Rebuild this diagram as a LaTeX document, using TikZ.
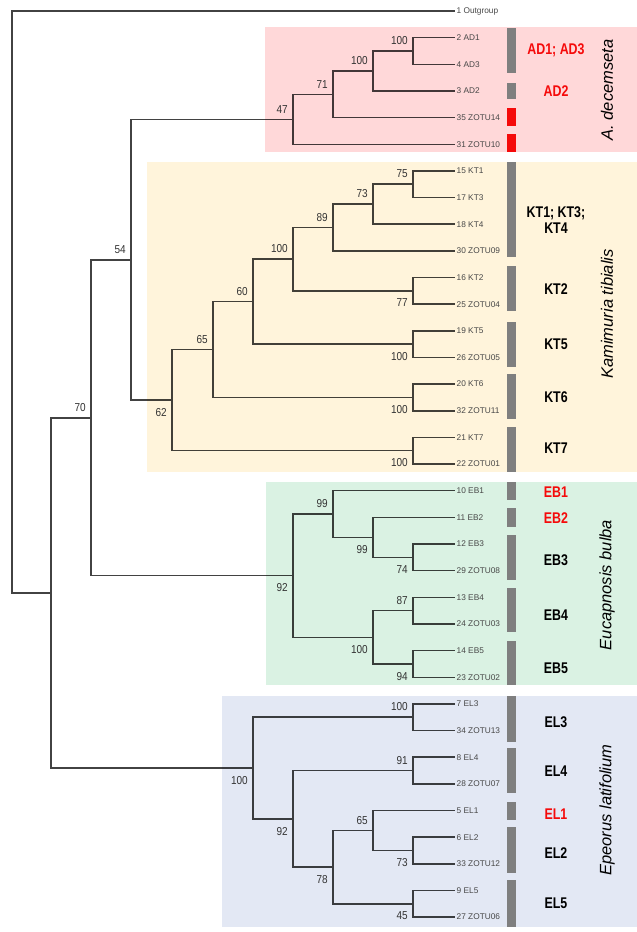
\documentclass[tikz,border=0pt]{standalone}
\usepackage{fontspec}
\setmainfont{Liberation Sans}
\newfontfamily\bsfont[FakeStretch=0.87]{Liberation Sans}
\newfontfamily\grpfont[FakeStretch=0.8]{Liberation Sans}
\definecolor{boxpink}{HTML}{FFD8D9}
\definecolor{boxyellow}{HTML}{FFF4DB}
\definecolor{boxgreen}{HTML}{DAF2E3}
\definecolor{boxblue}{HTML}{E3E8F4}
\definecolor{bargray}{HTML}{7F7F7F}
\definecolor{markred}{HTML}{F50A0A}
\begin{document}
\begin{tikzpicture}[x=1pt, y=-1pt,
  branch/.style={draw=black, draw opacity=0.74, line width=1.5pt},
  leaf/.style={anchor=west, inner sep=1.5pt, text=black!72, font=\fontsize{8.3}{9}\selectfont},
  bsup/.style={anchor=south east, inner sep=0pt, xshift=-5pt, yshift=6pt, text=black!80, font=\bsfont\fontsize{11.5}{12}\selectfont},
  bsdown/.style={anchor=north east, inner sep=0pt, xshift=-5pt, yshift=-8pt, text=black!80, font=\bsfont\fontsize{11.5}{12}\selectfont},
  grp/.style={align=center, font=\grpfont\bfseries\fontsize{15.5}{16.5}\selectfont},
  species/.style={rotate=90, font=\fontsize{16.5}{18}\selectfont\itshape}]
\useasboundingbox (0,0) rectangle (637,932);

% clade boxes
\fill[boxpink] (265,27) rectangle (637,152);
\fill[boxyellow] (147,162) rectangle (637,472);
\fill[boxgreen] (266,482) rectangle (637,685);
\fill[boxblue] (222,696) rectangle (637,927);

% haplotype bars
\fill[bargray] (507,28) rectangle (516,73);
\fill[bargray] (507,83) rectangle (516,99);
\fill[markred] (507,108) rectangle (516,126);
\fill[markred] (507,134) rectangle (516,152);
\fill[bargray] (507,162) rectangle (516,257);
\fill[bargray] (507,266) rectangle (516,311);
\fill[bargray] (507,322) rectangle (516,367);
\fill[bargray] (507,374) rectangle (516,419);
\fill[bargray] (507,427) rectangle (516,472);
\fill[bargray] (507,482) rectangle (516,500);
\fill[bargray] (507,508) rectangle (516,527);
\fill[bargray] (507,535) rectangle (516,580);
\fill[bargray] (507,588) rectangle (516,632);
\fill[bargray] (507,641) rectangle (516,685);
\fill[bargray] (507,696) rectangle (516,742);
\fill[bargray] (507,748) rectangle (516,793);
\fill[bargray] (507,802) rectangle (516,820);
\fill[bargray] (507,827) rectangle (516,873);
\fill[bargray] (507,880) rectangle (516,927);

% tips
\node[leaf] (t1) at (455,11.0) {1 Outgroup};
\node[leaf] (t2) at (455,37.6) {2 AD1};
\node[leaf] (t4) at (455,64.3) {4 AD3};
\node[leaf] (t3) at (455,91.0) {3 AD2};
\node[leaf] (t35) at (455,117.6) {35 ZOTU14};
\node[leaf] (t31) at (455,144.3) {31 ZOTU10};
\node[leaf] (t15) at (455,170.9) {15 KT1};
\node[leaf] (t17) at (455,197.6) {17 KT3};
\node[leaf] (t18) at (455,224.2) {18 KT4};
\node[leaf] (t30) at (455,250.9) {30 ZOTU09};
\node[leaf] (t16) at (455,277.5) {16 KT2};
\node[leaf] (t25) at (455,304.2) {25 ZOTU04};
\node[leaf] (t19) at (455,330.8) {19 KT5};
\node[leaf] (t26) at (455,357.5) {26 ZOTU05};
\node[leaf] (t20) at (455,384.1) {20 KT6};
\node[leaf] (t32) at (455,410.8) {32 ZOTU11};
\node[leaf] (t21) at (455,437.4) {21 KT7};
\node[leaf] (t22) at (455,464.1) {22 ZOTU01};
\node[leaf] (t10) at (455,490.7) {10 EB1};
\node[leaf] (t11) at (455,517.4) {11 EB2};
\node[leaf] (t12) at (455,544.0) {12 EB3};
\node[leaf] (t29) at (455,570.7) {29 ZOTU08};
\node[leaf] (t13) at (455,597.3) {13 EB4};
\node[leaf] (t24) at (455,624.0) {24 ZOTU03};
\node[leaf] (t14) at (455,650.6) {14 EB5};
\node[leaf] (t23) at (455,677.3) {23 ZOTU02};
\node[leaf] (t7) at (455,703.9) {7 EL3};
\node[leaf] (t34) at (455,730.6) {34 ZOTU13};
\node[leaf] (t8) at (455,757.2) {8 EL4};
\node[leaf] (t28) at (455,783.9) {28 ZOTU07};
\node[leaf] (t5) at (455,810.5) {5 EL1};
\node[leaf] (t6) at (455,837.2) {6 EL2};
\node[leaf] (t33) at (455,863.8) {33 ZOTU12};
\node[leaf] (t9) at (455,890.5) {9 EL5};
\node[leaf] (t27) at (455,917.1) {27 ZOTU06};

% inner nodes
\coordinate (root) at (12,302.0);
\coordinate (ingroup) at (51,593.0);
\coordinate (n70) at (91,417.8);
\coordinate (n54) at (131,259.8);
\coordinate (ad47) at (293,119.3);
\coordinate (ad71) at (333,94.3);
\coordinate (ad100b) at (373,71.0);
\coordinate (ad100a) at (413,51.0);
\coordinate (kt62) at (172,400.2);
\coordinate (kt65) at (213,349.6);
\coordinate (kt60) at (253,301.7);
\coordinate (kt100) at (293,259.2);
\coordinate (kt89) at (333,227.5);
\coordinate (kt73) at (373,204.2);
\coordinate (kt75) at (413,184.2);
\coordinate (kt77) at (413,290.8);
\coordinate (kt5) at (413,344.1);
\coordinate (kt6) at (413,397.4);
\coordinate (kt7) at (413,450.7);
\coordinate (eb92) at (293,575.7);
\coordinate (eb99a) at (333,514.0);
\coordinate (eb99b) at (373,537.3);
\coordinate (eb74) at (413,557.3);
\coordinate (eb100) at (373,637.3);
\coordinate (eb87) at (413,610.6);
\coordinate (eb94) at (413,663.9);
\coordinate (el100b) at (253,768.1);
\coordinate (el100a) at (413,717.2);
\coordinate (el92) at (293,818.9);
\coordinate (el91) at (413,770.5);
\coordinate (el78) at (333,867.2);
\coordinate (el65) at (373,830.5);
\coordinate (el73) at (413,850.5);
\coordinate (el45) at (413,903.8);

% branches
\draw[branch] (root) |- (t1.west) (root) |- (ingroup)
  (ingroup) |- (n70) (ingroup) |- (el100b)
  (n70) |- (n54) (n70) |- (eb92)
  (n54) |- (ad47) (n54) |- (kt62)
  (ad47) |- (ad71) (ad47) |- (t31.west)
  (ad71) |- (ad100b) (ad71) |- (t35.west)
  (ad100b) |- (ad100a) (ad100b) |- (t3.west)
  (ad100a) |- (t2.west) (ad100a) |- (t4.west)
  (kt62) |- (kt65) (kt62) |- (kt7)
  (kt65) |- (kt60) (kt65) |- (kt6)
  (kt60) |- (kt100) (kt60) |- (kt5)
  (kt100) |- (kt89) (kt100) |- (kt77)
  (kt89) |- (kt73) (kt89) |- (t30.west)
  (kt73) |- (kt75) (kt73) |- (t18.west)
  (kt75) |- (t15.west) (kt75) |- (t17.west)
  (kt77) |- (t16.west) (kt77) |- (t25.west)
  (kt5) |- (t19.west) (kt5) |- (t26.west)
  (kt6) |- (t20.west) (kt6) |- (t32.west)
  (kt7) |- (t21.west) (kt7) |- (t22.west)
  (eb92) |- (eb99a) (eb92) |- (eb100)
  (eb99a) |- (t10.west) (eb99a) |- (eb99b)
  (eb99b) |- (t11.west) (eb99b) |- (eb74)
  (eb74) |- (t12.west) (eb74) |- (t29.west)
  (eb100) |- (eb87) (eb100) |- (eb94)
  (eb87) |- (t13.west) (eb87) |- (t24.west)
  (eb94) |- (t14.west) (eb94) |- (t23.west)
  (el100b) |- (el100a) (el100b) |- (el92)
  (el100a) |- (t7.west) (el100a) |- (t34.west)
  (el92) |- (el91) (el92) |- (el78)
  (el91) |- (t8.west) (el91) |- (t28.west)
  (el78) |- (el65) (el78) |- (el45)
  (el65) |- (t5.west) (el65) |- (el73)
  (el73) |- (t6.west) (el73) |- (t33.west)
  (el45) |- (t9.west) (el45) |- (t27.west);

% bootstrap values
\node[bsup] (bs-n70) at (n70) {70};
\node[bsup] (bs-n54) at (n54) {54};
\node[bsup] (bs-ad47) at (ad47) {47};
\node[bsup] (bs-ad71) at (ad71) {71};
\node[bsup] (bs-ad100b) at (ad100b) {100};
\node[bsup] (bs-ad100a) at (ad100a) {100};
\node[bsdown] (bs-kt62) at (kt62) {62};
\node[bsup] (bs-kt65) at (kt65) {65};
\node[bsup] (bs-kt60) at (kt60) {60};
\node[bsup] (bs-kt100) at (kt100) {100};
\node[bsup] (bs-kt89) at (kt89) {89};
\node[bsup] (bs-kt73) at (kt73) {73};
\node[bsup] (bs-kt75) at (kt75) {75};
\node[bsdown] (bs-kt77) at (kt77) {77};
\node[bsdown] (bs-kt5) at (kt5) {100};
\node[bsdown] (bs-kt6) at (kt6) {100};
\node[bsdown] (bs-kt7) at (kt7) {100};
\node[bsdown] (bs-eb92) at (eb92) {92};
\node[bsup] (bs-eb99a) at (eb99a) {99};
\node[bsdown] (bs-eb99b) at (eb99b) {99};
\node[bsdown] (bs-eb74) at (eb74) {74};
\node[bsup] (bs-eb87) at (eb87) {87};
\node[bsdown] (bs-eb100) at (eb100) {100};
\node[bsdown] (bs-eb94) at (eb94) {94};
\node[bsdown] (bs-el100b) at (el100b) {100};
\node[bsup] (bs-el100a) at (el100a) {100};
\node[bsdown] (bs-el92) at (el92) {92};
\node[bsup] (bs-el91) at (el91) {91};
\node[bsdown] (bs-el78) at (el78) {78};
\node[bsup] (bs-el65) at (el65) {65};
\node[bsdown] (bs-el73) at (el73) {73};
\node[bsdown] (bs-el45) at (el45) {45};

% haplotype names
\node[grp, text=markred] (g-ad13) at (556,50) {AD1; AD3};
\node[grp, text=markred] (g-ad2) at (556,91) {AD2};
\node[grp] (g-kt134) at (556,220) {KT1; KT3;\\KT4};
\node[grp] (g-kt2) at (556,289) {KT2};
\node[grp] (g-kt5) at (556,344) {KT5};
\node[grp] (g-kt6) at (556,397) {KT6};
\node[grp] (g-kt7) at (556,448) {KT7};
\node[grp, text=markred] (g-eb1) at (556,492) {EB1};
\node[grp, text=markred] (g-eb2) at (556,518) {EB2};
\node[grp] (g-eb3) at (556,560) {EB3};
\node[grp] (g-eb4) at (556,615) {EB4};
\node[grp] (g-eb5) at (556,668) {EB5};
\node[grp] (g-el3) at (556,722) {EL3};
\node[grp] (g-el4) at (556,771) {EL4};
\node[grp, text=markred] (g-el1) at (556,814) {EL1};
\node[grp] (g-el2) at (556,853) {EL2};
\node[grp] (g-el5) at (556,903) {EL5};

% species
\node[species] (sp-ad) at (607,90) {A. decemseta};
\node[species] (sp-kt) at (607,314) {Kamimuria tibialis};
\node[species] (sp-eb) at (607,585) {Eucapnosis bulba};
\node[species] (sp-el) at (607,810) {Epeorus latifolium};
\end{tikzpicture}
\end{document}
